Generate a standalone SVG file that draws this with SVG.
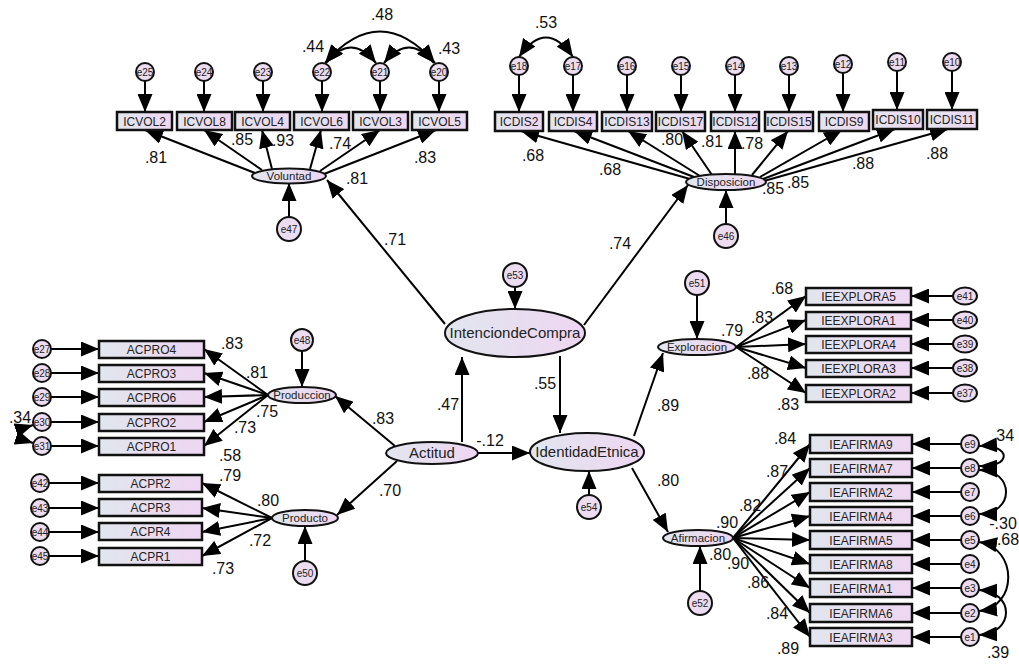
<svg xmlns="http://www.w3.org/2000/svg" width="1019" height="666" viewBox="0 0 1019 666">
<defs>
<linearGradient id="g" x1="0" y1="0" x2="1" y2="0">
<stop offset="0" stop-color="#e1e6ee"/>
<stop offset="1" stop-color="#eed6f2"/>
</linearGradient>
<marker id="ah" viewBox="0 0 18 15" refX="18" refY="7.5" markerWidth="18" markerHeight="15" markerUnits="userSpaceOnUse" orient="auto-start-reverse">
<path d="M0,0 L18,7.5 L0,15 z" fill="#000"/>
</marker>
<style>
.box{fill:url(#g);stroke:#111;stroke-width:2.5}
.lat{fill:url(#g);stroke:#111;stroke-width:2}
.err{fill:#ecdcf0;stroke:#111;stroke-width:2}
.ln{stroke:#000;stroke-width:2;fill:none;marker-end:url(#ah)}
.cov{stroke:#000;stroke-width:2;fill:none;marker-start:url(#ah);marker-end:url(#ah)}
text{font-family:'Liberation Sans',Arial,sans-serif;text-anchor:middle;fill:#222}
.num{font-size:16px;fill:#111}
.bt{font-size:12px}
.et{font-size:10px}
.lt{font-size:11.5px}
.big{font-size:15px}
</style>
</defs>
<rect width="1019" height="666" fill="#fff"/>

<g id="connectors">
<!-- structural -->
<path class="ln" d="M445,324 L327,180"/>
<path class="ln" d="M584,325 L688,185"/>
<path class="ln" d="M462,442 L462,357"/>
<path class="ln" d="M560,356 L560,433"/>
<path class="ln" d="M478,453 L530,453"/>
<path class="ln" d="M395,446 L335,396"/>
<path class="ln" d="M397,461 L337,515"/>
<path class="ln" d="M634,436 L663,353"/>
<path class="ln" d="M632,468 L668,532"/>
<!-- latent errors -->
<path class="ln" d="M515,287 L515,309"/>
<path class="ln" d="M589,495 L589,471"/>
<path class="ln" d="M289,217 L289,183"/>
<path class="ln" d="M726,224 L726,190"/>
<path class="ln" d="M302,351 L302,387"/>
<path class="ln" d="M305,561 L305,526"/>
<path class="ln" d="M697,295 L697,339"/>
<path class="ln" d="M700,591 L700,546"/>
<!-- Voluntad loadings -->
<path class="ln" d="M255,173 L145,130"/>
<path class="ln" d="M262,170 L204,130"/>
<path class="ln" d="M272,169 L262,130"/>
<path class="ln" d="M310,169 L321,130"/>
<path class="ln" d="M320,171 L380,130"/>
<path class="ln" d="M324,174 L436,130"/>
<!-- ICVOL errors -->
<path class="ln" d="M145,81 L145,112"/>
<path class="ln" d="M204,81 L204,112"/>
<path class="ln" d="M263,81 L263,112"/>
<path class="ln" d="M322,81 L322,112"/>
<path class="ln" d="M380,81 L380,112"/>
<path class="ln" d="M439,81 L439,112"/>
<!-- ICVOL covariances -->
<path class="cov" d="M325,63 Q380,0 435,63"/>
<path class="cov" d="M326,63 Q351,32 376,63"/>
<path class="cov" d="M384,63 Q409,32 434,63"/>
<!-- Disposicion loadings -->
<path class="ln" d="M690,179 L521,131"/>
<path class="ln" d="M694,177 L574,131"/>
<path class="ln" d="M700,176 L628,131"/>
<path class="ln" d="M712,175 L682,131"/>
<path class="ln" d="M735,174 L735,131"/>
<path class="ln" d="M752,175 L788,131"/>
<path class="ln" d="M760,177 L842,130"/>
<path class="ln" d="M763,179 L895,129"/>
<path class="ln" d="M764,181 L948,129"/>
<!-- ICDIS errors -->
<path class="ln" d="M519,75 L519,112"/>
<path class="ln" d="M573,75 L573,112"/>
<path class="ln" d="M627,75 L627,112"/>
<path class="ln" d="M681,75 L681,112"/>
<path class="ln" d="M735,75 L735,112"/>
<path class="ln" d="M789,75 L789,112"/>
<path class="ln" d="M843,73 L843,112"/>
<path class="ln" d="M897,71 L897,110"/>
<path class="ln" d="M952,71 L952,110"/>
<path class="cov" d="M519,57 Q546,18 573,57"/>
<!-- Produccion loadings -->
<path class="ln" d="M268,395 L204,349"/>
<path class="ln" d="M268,395 L204,373"/>
<path class="ln" d="M268,395 L204,397"/>
<path class="ln" d="M268,395 L204,422"/>
<path class="ln" d="M268,395 L204,446"/>
<path class="ln" d="M51,349 L99,349"/>
<path class="ln" d="M51,373 L99,373"/>
<path class="ln" d="M51,397 L99,397"/>
<path class="ln" d="M51,422 L99,422"/>
<path class="ln" d="M51,446 L99,446"/>
<path class="cov" d="M33,425 Q6,434 33,443"/>
<!-- Producto loadings -->
<path class="ln" d="M272,518 L202,483"/>
<path class="ln" d="M272,518 L202,508"/>
<path class="ln" d="M272,518 L202,532"/>
<path class="ln" d="M272,518 L202,556"/>
<path class="ln" d="M49,483 L99,483"/>
<path class="ln" d="M49,508 L99,508"/>
<path class="ln" d="M49,532 L99,532"/>
<path class="ln" d="M49,556 L99,556"/>
<!-- Exploracion loadings -->
<path class="ln" d="M736,347 L806,296"/>
<path class="ln" d="M736,347 L806,320"/>
<path class="ln" d="M736,347 L806,344"/>
<path class="ln" d="M736,347 L806,368"/>
<path class="ln" d="M736,347 L806,393"/>
<path class="ln" d="M953,296 L911,296"/>
<path class="ln" d="M953,320 L911,320"/>
<path class="ln" d="M953,344 L911,344"/>
<path class="ln" d="M953,368 L911,368"/>
<path class="ln" d="M953,393 L911,393"/>
<!-- Afirmacion loadings -->
<path class="ln" d="M733,538 L810,444"/>
<path class="ln" d="M733,538 L810,468"/>
<path class="ln" d="M733,538 L810,492"/>
<path class="ln" d="M733,538 L810,516"/>
<path class="ln" d="M733,538 L810,540"/>
<path class="ln" d="M733,538 L810,564"/>
<path class="ln" d="M733,538 L810,588"/>
<path class="ln" d="M733,538 L810,613"/>
<path class="ln" d="M733,538 L810,637"/>
<path class="ln" d="M961,444 L912,444"/>
<path class="ln" d="M961,468 L912,468"/>
<path class="ln" d="M961,492 L912,492"/>
<path class="ln" d="M961,516 L912,516"/>
<path class="ln" d="M961,540 L912,540"/>
<path class="ln" d="M961,564 L912,564"/>
<path class="ln" d="M961,588 L912,588"/>
<path class="ln" d="M961,613 L912,613"/>
<path class="ln" d="M961,637 L912,637"/>
<!-- right covariances -->
<path class="cov" d="M979,446 C1012,444 1012,468 979,466"/>
<path class="cov" d="M979,470 C1015,470 1015,514 979,514"/>
<path class="cov" d="M979,542 C1018,548 1018,607 979,611"/>
<path class="cov" d="M979,590 C1015,592 1015,633 979,635"/>
</g>

<g id="IntenciondeCompra"><ellipse class="lat" cx="515" cy="333" rx="70" ry="24"/><text class="big" x="515" y="338">IntenciondeCompra</text></g>
<g id="Actitud"><ellipse class="lat" cx="432" cy="453" rx="46" ry="11"/><text class="big" x="432" y="458">Actitud</text></g>
<g id="IdentidadEtnica"><ellipse class="lat" cx="587" cy="452" rx="57" ry="19"/><text class="big" x="587" y="457">IdentidadEtnica</text></g>
<g id="Voluntad"><ellipse class="lat" cx="289" cy="176" rx="37" ry="7.5"/><text class="lt" x="289" y="180">Voluntad</text></g>
<g id="Disposicion"><ellipse class="lat" cx="726" cy="182" rx="40" ry="8"/><text class="lt" x="726" y="186">Disposicion</text></g>
<g id="Produccion"><ellipse class="lat" cx="302" cy="395" rx="34" ry="8"/><text class="lt" x="302" y="399">Produccion</text></g>
<g id="Producto"><ellipse class="lat" cx="305" cy="518" rx="33" ry="8"/><text class="lt" x="305" y="522">Producto</text></g>
<g id="Exploracion"><ellipse class="lat" cx="697" cy="347" rx="39" ry="8"/><text class="lt" x="697" y="351">Exploracion</text></g>
<g id="Afirmacion"><ellipse class="lat" cx="698" cy="538" rx="35" ry="8"/><text class="lt" x="698" y="542">Afirmacion</text></g>

<g id="e53"><circle class="err" cx="515" cy="275" r="12"/><text class="et" x="515" y="279">e53</text></g>
<g id="e54"><circle class="err" cx="589" cy="507" r="12"/><text class="et" x="589" y="511">e54</text></g>
<g id="e47"><circle class="err" cx="289" cy="229" r="12"/><text class="et" x="289" y="233">e47</text></g>
<g id="e46"><circle class="err" cx="726" cy="236" r="12"/><text class="et" x="726" y="240">e46</text></g>
<g id="e48"><circle class="err" cx="302" cy="340" r="11"/><text class="et" x="302" y="344">e48</text></g>
<g id="e50"><circle class="err" cx="305" cy="573" r="12"/><text class="et" x="305" y="577">e50</text></g>
<g id="e51"><circle class="err" cx="697" cy="283" r="12"/><text class="et" x="697" y="287">e51</text></g>
<g id="e52"><circle class="err" cx="700" cy="603" r="12"/><text class="et" x="700" y="607">e52</text></g>

<g id="ICVOL2"><rect class="box" x="117" y="112" width="55" height="18"/><text class="bt" x="144.5" y="125.5">ICVOL2</text></g>
<g id="ICVOL8"><rect class="box" x="177" y="112" width="55" height="18"/><text class="bt" x="204.5" y="125.5">ICVOL8</text></g>
<g id="ICVOL4"><rect class="box" x="235" y="112" width="55" height="18"/><text class="bt" x="262.5" y="125.5">ICVOL4</text></g>
<g id="ICVOL6"><rect class="box" x="294" y="112" width="55" height="18"/><text class="bt" x="321.5" y="125.5">ICVOL6</text></g>
<g id="ICVOL3"><rect class="box" x="353" y="112" width="55" height="18"/><text class="bt" x="380.5" y="125.5">ICVOL3</text></g>
<g id="ICVOL5"><rect class="box" x="412" y="112" width="55" height="18"/><text class="bt" x="439.5" y="125.5">ICVOL5</text></g>

<g id="e25"><circle class="err" cx="145" cy="72" r="9"/><text class="et" x="145" y="75.5">e25</text></g>
<g id="e24"><circle class="err" cx="204" cy="72" r="9"/><text class="et" x="204" y="75.5">e24</text></g>
<g id="e23"><circle class="err" cx="263" cy="72" r="9"/><text class="et" x="263" y="75.5">e23</text></g>
<g id="e22"><circle class="err" cx="322" cy="72" r="9"/><text class="et" x="322" y="75.5">e22</text></g>
<g id="e21"><circle class="err" cx="380" cy="72" r="9"/><text class="et" x="380" y="75.5">e21</text></g>
<g id="e20"><circle class="err" cx="439" cy="72" r="9"/><text class="et" x="439" y="75.5">e20</text></g>

<g id="ICDIS2"><rect class="box" x="495" y="112" width="48" height="19"/><text class="bt" x="519" y="126">ICDIS2</text></g>
<g id="ICDIS4"><rect class="box" x="549" y="112" width="48" height="19"/><text class="bt" x="573" y="126">ICDIS4</text></g>
<g id="ICDIS13"><rect class="box" x="602" y="112" width="50" height="19"/><text class="bt" x="627" y="126">ICDIS13</text></g>
<g id="ICDIS17"><rect class="box" x="656" y="112" width="49" height="19"/><text class="bt" x="680.5" y="126">ICDIS17</text></g>
<g id="ICDIS12"><rect class="box" x="711" y="112" width="48" height="19"/><text class="bt" x="735" y="126">ICDIS12</text></g>
<g id="ICDIS15"><rect class="box" x="765" y="112" width="48" height="19"/><text class="bt" x="789" y="126">ICDIS15</text></g>
<g id="ICDIS9"><rect class="box" x="819" y="112" width="50" height="19"/><text class="bt" x="844" y="126">ICDIS9</text></g>
<g id="ICDIS10"><rect class="box" x="873" y="110" width="50" height="19"/><text class="bt" x="898" y="124">ICDIS10</text></g>
<g id="ICDIS11"><rect class="box" x="927" y="110" width="50" height="19"/><text class="bt" x="952" y="124">ICDIS11</text></g>

<g id="e18"><circle class="err" cx="519" cy="66" r="9"/><text class="et" x="519" y="69.5">e18</text></g>
<g id="e17"><circle class="err" cx="573" cy="66" r="9"/><text class="et" x="573" y="69.5">e17</text></g>
<g id="e16"><circle class="err" cx="627" cy="66" r="9"/><text class="et" x="627" y="69.5">e16</text></g>
<g id="e15"><circle class="err" cx="681" cy="66" r="9"/><text class="et" x="681" y="69.5">e15</text></g>
<g id="e14"><circle class="err" cx="735" cy="66" r="9"/><text class="et" x="735" y="69.5">e14</text></g>
<g id="e13"><circle class="err" cx="789" cy="66" r="9"/><text class="et" x="789" y="69.5">e13</text></g>
<g id="e12"><circle class="err" cx="843" cy="64" r="9"/><text class="et" x="843" y="67.5">e12</text></g>
<g id="e11"><circle class="err" cx="897" cy="62" r="9"/><text class="et" x="897" y="65.5">e11</text></g>
<g id="e10"><circle class="err" cx="952" cy="62" r="9"/><text class="et" x="952" y="65.5">e10</text></g>

<g id="ACPRO4"><rect class="box" x="99" y="341" width="105" height="17"/><text class="bt" x="151.5" y="354">ACPRO4</text></g>
<g id="ACPRO3"><rect class="box" x="99" y="365" width="105" height="17"/><text class="bt" x="151.5" y="378">ACPRO3</text></g>
<g id="ACPRO6"><rect class="box" x="99" y="389" width="105" height="17"/><text class="bt" x="151.5" y="402">ACPRO6</text></g>
<g id="ACPRO2"><rect class="box" x="99" y="414" width="105" height="17"/><text class="bt" x="151.5" y="427">ACPRO2</text></g>
<g id="ACPRO1"><rect class="box" x="99" y="438" width="105" height="17"/><text class="bt" x="151.5" y="451">ACPRO1</text></g>
<g id="e27"><circle class="err" cx="42" cy="349" r="9"/><text class="et" x="42" y="352.5">e27</text></g>
<g id="e28"><circle class="err" cx="42" cy="373" r="9"/><text class="et" x="42" y="376.5">e28</text></g>
<g id="e29"><circle class="err" cx="42" cy="397" r="9"/><text class="et" x="42" y="400.5">e29</text></g>
<g id="e30"><circle class="err" cx="42" cy="422" r="9"/><text class="et" x="42" y="425.5">e30</text></g>
<g id="e31"><circle class="err" cx="42" cy="446" r="9"/><text class="et" x="42" y="449.5">e31</text></g>

<g id="ACPR2"><rect class="box" x="99" y="475" width="103" height="17"/><text class="bt" x="150.5" y="488">ACPR2</text></g>
<g id="ACPR3"><rect class="box" x="99" y="499" width="103" height="17"/><text class="bt" x="150.5" y="512">ACPR3</text></g>
<g id="ACPR4"><rect class="box" x="99" y="523" width="103" height="17"/><text class="bt" x="150.5" y="536">ACPR4</text></g>
<g id="ACPR1"><rect class="box" x="99" y="548" width="103" height="17"/><text class="bt" x="150.5" y="561">ACPR1</text></g>
<g id="e42"><circle class="err" cx="40" cy="483" r="9"/><text class="et" x="40" y="486.5">e42</text></g>
<g id="e43"><circle class="err" cx="40" cy="508" r="9"/><text class="et" x="40" y="511.5">e43</text></g>
<g id="e44"><circle class="err" cx="40" cy="532" r="9"/><text class="et" x="40" y="535.5">e44</text></g>
<g id="e45"><circle class="err" cx="40" cy="556" r="9"/><text class="et" x="40" y="559.5">e45</text></g>

<g id="IEEXPLORA5"><rect class="box" x="806" y="288" width="105" height="17"/><text class="bt" x="858.5" y="301">IEEXPLORA5</text></g>
<g id="IEEXPLORA1"><rect class="box" x="806" y="312" width="105" height="17"/><text class="bt" x="858.5" y="325">IEEXPLORA1</text></g>
<g id="IEEXPLORA4"><rect class="box" x="806" y="336" width="105" height="17"/><text class="bt" x="858.5" y="349">IEEXPLORA4</text></g>
<g id="IEEXPLORA3"><rect class="box" x="806" y="360" width="105" height="17"/><text class="bt" x="858.5" y="373">IEEXPLORA3</text></g>
<g id="IEEXPLORA2"><rect class="box" x="806" y="385" width="105" height="17"/><text class="bt" x="858.5" y="398">IEEXPLORA2</text></g>
<g id="e41"><ellipse class="err" cx="965" cy="296" rx="12" ry="8.5"/><text class="et" x="965" y="299.5">e41</text></g>
<g id="e40"><ellipse class="err" cx="965" cy="320" rx="12" ry="8.5"/><text class="et" x="965" y="323.5">e40</text></g>
<g id="e39"><ellipse class="err" cx="965" cy="344" rx="12" ry="8.5"/><text class="et" x="965" y="347.5">e39</text></g>
<g id="e38"><ellipse class="err" cx="965" cy="368" rx="12" ry="8.5"/><text class="et" x="965" y="371.5">e38</text></g>
<g id="e37"><ellipse class="err" cx="965" cy="393" rx="12" ry="8.5"/><text class="et" x="965" y="396.5">e37</text></g>

<g id="IEAFIRMA9"><rect class="box" x="810" y="435" width="102" height="18"/><text class="bt" x="861" y="448.5">IEAFIRMA9</text></g>
<g id="IEAFIRMA7"><rect class="box" x="810" y="459" width="102" height="18"/><text class="bt" x="861" y="472.5">IEAFIRMA7</text></g>
<g id="IEAFIRMA2"><rect class="box" x="810" y="483" width="102" height="18"/><text class="bt" x="861" y="496.5">IEAFIRMA2</text></g>
<g id="IEAFIRMA4"><rect class="box" x="810" y="507" width="102" height="18"/><text class="bt" x="861" y="520.5">IEAFIRMA4</text></g>
<g id="IEAFIRMA5"><rect class="box" x="810" y="531" width="102" height="18"/><text class="bt" x="861" y="544.5">IEAFIRMA5</text></g>
<g id="IEAFIRMA8"><rect class="box" x="810" y="555" width="102" height="18"/><text class="bt" x="861" y="568.5">IEAFIRMA8</text></g>
<g id="IEAFIRMA1"><rect class="box" x="810" y="579" width="102" height="18"/><text class="bt" x="861" y="592.5">IEAFIRMA1</text></g>
<g id="IEAFIRMA6"><rect class="box" x="810" y="604" width="102" height="18"/><text class="bt" x="861" y="617.5">IEAFIRMA6</text></g>
<g id="IEAFIRMA3"><rect class="box" x="810" y="628" width="102" height="18"/><text class="bt" x="861" y="641.5">IEAFIRMA3</text></g>
<g id="e9"><circle class="err" cx="970" cy="444" r="9"/><text class="et" x="970" y="447.5">e9</text></g>
<g id="e8"><circle class="err" cx="970" cy="468" r="9"/><text class="et" x="970" y="471.5">e8</text></g>
<g id="e7"><circle class="err" cx="970" cy="492" r="9"/><text class="et" x="970" y="495.5">e7</text></g>
<g id="e6"><circle class="err" cx="970" cy="516" r="9"/><text class="et" x="970" y="519.5">e6</text></g>
<g id="e5"><circle class="err" cx="970" cy="540" r="9"/><text class="et" x="970" y="543.5">e5</text></g>
<g id="e4"><circle class="err" cx="970" cy="564" r="9"/><text class="et" x="970" y="567.5">e4</text></g>
<g id="e3"><circle class="err" cx="970" cy="588" r="9"/><text class="et" x="970" y="591.5">e3</text></g>
<g id="e2"><circle class="err" cx="970" cy="613" r="9"/><text class="et" x="970" y="616.5">e2</text></g>
<g id="e1"><circle class="err" cx="970" cy="637" r="9"/><text class="et" x="970" y="640.5">e1</text></g>

<g id="labels">
<text class="num" x="382" y="20">.48</text>
<text class="num" x="313" y="52">.44</text>
<text class="num" x="449" y="54">.43</text>
<text class="num" x="156" y="163">.81</text>
<text class="num" x="242" y="145">.85</text>
<text class="num" x="283" y="146">.93</text>
<text class="num" x="340" y="149">.74</text>
<text class="num" x="425" y="163">.83</text>
<text class="num" x="357" y="184">.81</text>
<text class="num" x="395" y="245">.71</text>
<text class="num" x="546" y="28">.53</text>
<text class="num" x="533" y="161">.68</text>
<text class="num" x="610" y="175">.68</text>
<text class="num" x="672" y="145">.80</text>
<text class="num" x="712" y="147">.81</text>
<text class="num" x="752" y="149">.78</text>
<text class="num" x="863" y="169">.88</text>
<text class="num" x="937" y="159">.88</text>
<text class="num" x="773" y="194">.85</text>
<text class="num" x="798" y="188">.85</text>
<text class="num" x="620" y="249">.74</text>
<text class="num" x="448" y="410">.47</text>
<text class="num" x="490" y="446">-.12</text>
<text class="num" x="545" y="389">.55</text>
<text class="num" x="383" y="424">.83</text>
<text class="num" x="390" y="496">.70</text>
<text class="num" x="232" y="349">.83</text>
<text class="num" x="257" y="378">.81</text>
<text class="num" x="267" y="417">.75</text>
<text class="num" x="245" y="433">.73</text>
<text class="num" x="230" y="461">.58</text>
<text class="num" x="20" y="423">.34</text>
<text class="num" x="230" y="481">.79</text>
<text class="num" x="268" y="506">.80</text>
<text class="num" x="260" y="546">.72</text>
<text class="num" x="223" y="574">.73</text>
<text class="num" x="782" y="294">.68</text>
<text class="num" x="762" y="323">.83</text>
<text class="num" x="732" y="336">.79</text>
<text class="num" x="758" y="379">.88</text>
<text class="num" x="788" y="410">.83</text>
<text class="num" x="668" y="411">.89</text>
<text class="num" x="668" y="486">.80</text>
<text class="num" x="785" y="444">.84</text>
<text class="num" x="777" y="477">.87</text>
<text class="num" x="750" y="511">.82</text>
<text class="num" x="727" y="528">.90</text>
<text class="num" x="720" y="560">.80</text>
<text class="num" x="738" y="569">.90</text>
<text class="num" x="758" y="588">.86</text>
<text class="num" x="777" y="619">.84</text>
<text class="num" x="788" y="654">.89</text>
<text class="num" x="1003" y="441">.34</text>
<text class="num" x="1003" y="529">-.30</text>
<text class="num" x="1008" y="545">.68</text>
<text class="num" x="998" y="658">.39</text>
</g>
</svg>
